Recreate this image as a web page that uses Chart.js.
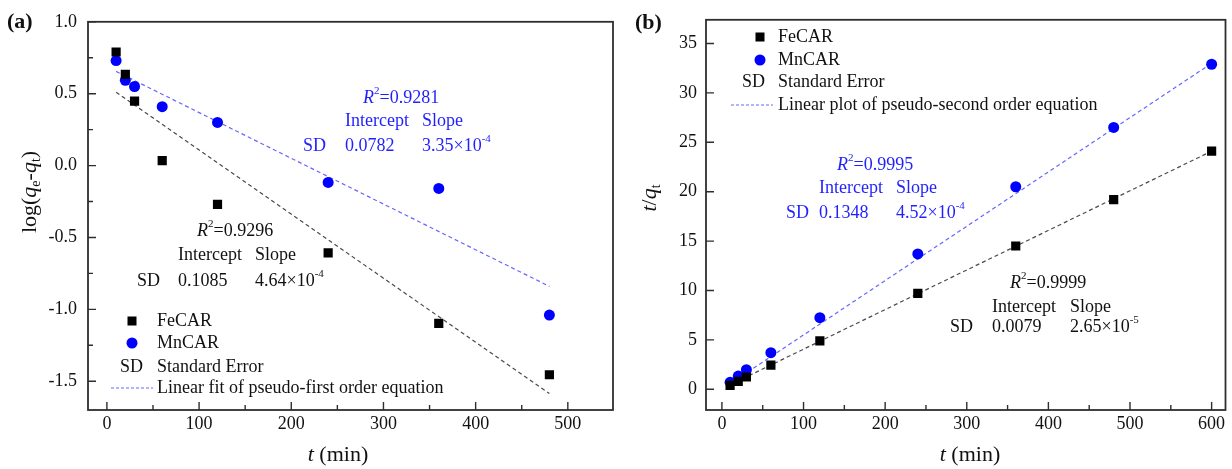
<!DOCTYPE html>
<html>
<head>
<meta charset="utf-8">
<script src="https://cdn.jsdelivr.net/npm/chart.js@4.4.0/dist/chart.umd.min.js"></script>
<style>
  body { margin: 0; background: #fff; }
  #wrap { position: relative; width: 1232px; height: 469px; }
  #wrap canvas { position: absolute; top: 0; }
  #chartA { left: 0; }
  #chartB { left: 620px; }
</style>
</head>
<body>
<div id="wrap">
  <canvas id="chartA" width="620" height="469"></canvas>
  <canvas id="chartB" width="612" height="469"></canvas>
</div>
<script>
// sampling times (min)
const timesA = [10, 20, 30, 60, 120, 240, 360, 480];
const timesB = [10, 20, 30, 60, 120, 240, 360, 480, 600];

// pseudo-first order, log(qe - qt)
const feLogA = [0.79, 0.634, 0.448, 0.034, -0.27, -0.607, -1.097, -1.455];
const mnLogA = [0.73, 0.593, 0.55, 0.41, 0.30, -0.117, -0.159, -1.04];
const fitTimesA = [10, 480];
const feFitA = [0.51, -1.586];
const mnFitA = [0.655, -0.84];

// pseudo-second order, t/qt
const feRatioB = [0.4, 0.8, 1.24, 2.45, 4.9, 9.7, 14.5, 19.2, 24.1];
const mnRatioB = [0.7, 1.34, 1.98, 3.7, 7.25, 13.7, 20.5, 26.5, 32.9];
const fitTimesB = [10, 600];
const feFitB = [0.45, 24.1];
const mnFitB = [0.55, 33.0];

// tick labels
const xTicksA = [0, 100, 200, 300, 400, 500];
const yTicksA = [-1.5, -1.0, -0.5, 0.0, 0.5, 1.0];
const xTicksB = [0, 100, 200, 300, 400, 500, 600];
const yTicksB = [0, 5, 10, 15, 20, 25, 30, 35];

const SERIF = '"Liberation Serif", "Times New Roman", serif';
const BLUE = '#0000ff';
const NOTE_BLUE = '#1f1fff';
const FIT_BLUE = '#6666ff';
const FIT_GREY = '#4a4a4a';

function pts(xs, ys) {
  return xs.map((x, i) => ({ x: x, y: ys[i] }));
}

// text runs: [text, kind] where kind is '', 'i', 'sub', 'sup' or 'b'
function runFont(kind, size) {
  const small = kind === 'sub' || kind === 'sup';
  const s = small ? Math.round(size * 0.62) : size;
  let style = '';
  if (kind === 'i') style = 'italic ';
  if (kind === 'b') style = 'bold ';
  return style + s + 'px ' + SERIF;
}

function richWidth(ctx, runs, size) {
  let w = 0;
  runs.forEach(r => {
    ctx.font = runFont(r[1], size);
    w += ctx.measureText(r[0]).width;
  });
  return w;
}

function drawRich(ctx, runs, x, y, size, color, align) {
  let cx = x;
  if (align === 'center') cx = x - richWidth(ctx, runs, size) / 2;
  ctx.fillStyle = color;
  ctx.textBaseline = 'middle';
  ctx.textAlign = 'left';
  runs.forEach(r => {
    ctx.font = runFont(r[1], size);
    let dy = 0;
    if (r[1] === 'sub') dy = size * 0.3;
    if (r[1] === 'sup') dy = -size * 0.38;
    ctx.fillText(r[0], cx, y + dy);
    cx += ctx.measureText(r[0]).width;
  });
}

// frame, inward ticks, titles, notes and legend
function makeDecor(cfg) {
  return {
    id: 'decor',
    afterDatasetsDraw(chart) {
      const ctx = chart.ctx;
      const a = chart.chartArea;
      const xs = chart.scales.x, ys = chart.scales.y;
      ctx.save();

      ctx.strokeStyle = '#2e2e2e';
      ctx.lineWidth = 1.8;
      ctx.strokeRect(a.left, a.top, a.right - a.left, a.bottom - a.top);

      ctx.lineWidth = 1.4;
      ctx.beginPath();
      cfg.xTicks.forEach((v, i) => {
        const px = xs.getPixelForValue(v);
        ctx.moveTo(px, a.bottom);
        ctx.lineTo(px, a.bottom - 8);
        if (cfg.xMinor && i < cfg.xTicks.length - 1) {
          const mx = xs.getPixelForValue((v + cfg.xTicks[i + 1]) / 2);
          ctx.moveTo(mx, a.bottom);
          ctx.lineTo(mx, a.bottom - 5);
        }
      });
      cfg.yTicks.forEach((v, i) => {
        const py = ys.getPixelForValue(v);
        ctx.moveTo(a.left, py);
        ctx.lineTo(a.left + 8, py);
        if (cfg.yMinor && i < cfg.yTicks.length - 1) {
          const my = ys.getPixelForValue((v + cfg.yTicks[i + 1]) / 2);
          ctx.moveTo(a.left, my);
          ctx.lineTo(a.left + 5, my);
        }
      });
      ctx.stroke();

      // panel tag
      drawRich(ctx, [[cfg.tag, 'b']], cfg.tagPos[0], cfg.tagPos[1], 22, '#111', 'left');

      // axis titles
      drawRich(ctx, cfg.xTitle, cfg.xTitlePos[0], cfg.xTitlePos[1], 22, '#111', 'center');
      ctx.save();
      ctx.translate(cfg.yTitlePos[0], cfg.yTitlePos[1]);
      ctx.rotate(-Math.PI / 2);
      drawRich(ctx, cfg.yTitle, 0, 0, 22, '#111', 'center');
      ctx.restore();

      // fit statistics
      cfg.notes.forEach(n => drawRich(ctx, n.runs, n.x, n.y, 18, n.color, 'left'));

      // legend
      const L = cfg.legend;
      ctx.fillStyle = '#000';
      ctx.fillRect(L.markX - 4.5, L.rows[0] - 4.5, 9, 9);
      ctx.fillStyle = BLUE;
      ctx.beginPath();
      ctx.arc(L.markX, L.rows[1], 5.5, 0, Math.PI * 2);
      ctx.fill();
      drawRich(ctx, [['SD', '']], L.sdX, L.rows[2], 18, '#111', 'left');
      ctx.strokeStyle = FIT_BLUE;
      ctx.lineWidth = 1.2;
      ctx.setLineDash([3, 2]);
      ctx.beginPath();
      ctx.moveTo(L.dash[0], L.rows[3]);
      ctx.lineTo(L.dash[1], L.rows[3]);
      ctx.stroke();
      ctx.setLineDash([]);
      L.labels.forEach((t, i) => drawRich(ctx, [[t, '']], L.textX, L.rows[i], 18, '#111', 'left'));

      ctx.restore();
    }
  };
}

function buildChart(id, sets, ax, decor) {
  const tickFont = { family: SERIF, size: 18 };
  return new Chart(document.getElementById(id), {
    type: 'scatter',
    data: { datasets: sets },
    options: {
      responsive: false,
      animation: false,
      devicePixelRatio: 1,
      layout: { padding: { top: 18, right: ax.padRight, left: 0, bottom: 0 } },
      plugins: { legend: { display: false }, tooltip: { enabled: false } },
      scales: {
        x: {
          type: 'linear',
          min: ax.xMin,
          max: ax.xMax,
          grid: { display: false, drawTicks: false },
          border: { display: false },
          afterBuildTicks: s => { s.ticks = ax.xTicks.map(v => ({ value: v })); },
          afterFit: s => { s.height = 59; },
          ticks: { padding: 3, color: '#111', font: tickFont, maxRotation: 0, autoSkip: false,
                   callback: v => String(v) }
        },
        y: {
          type: 'linear',
          min: ax.yMin,
          max: ax.yMax,
          grid: { display: false, drawTicks: false },
          border: { display: false },
          afterBuildTicks: s => { s.ticks = ax.yTicks.map(v => ({ value: v })); },
          afterFit: s => { s.width = ax.yWidth; },
          ticks: { padding: ax.yPad, color: '#111', font: tickFont, autoSkip: false,
                   callback: ax.yFmt }
        }
      }
    },
    plugins: [decor]
  });
}

function markerSets(times, fe, mn) {
  return [
    { label: 'FeCAR', data: pts(times, fe), pointStyle: 'rect', pointRadius: 6.5,
      backgroundColor: '#000', borderColor: '#000', borderWidth: 0 },
    { label: 'MnCAR', data: pts(times, mn), pointStyle: 'circle', pointRadius: 5.5,
      backgroundColor: BLUE, borderColor: BLUE, borderWidth: 0 }
  ];
}

function fitSets(times, fe, mn) {
  return [
    { label: 'FeCAR fit', data: pts(times, fe), showLine: true, pointRadius: 0,
      borderColor: FIT_GREY, borderWidth: 1.2, borderDash: [4, 3] },
    { label: 'MnCAR fit', data: pts(times, mn), showLine: true, pointRadius: 0,
      borderColor: FIT_BLUE, borderWidth: 1.2, borderDash: [4, 3] }
  ];
}

// (a) pseudo-first order
buildChart('chartA',
  markerSets(timesA, feLogA, mnLogA).concat(fitSets(fitTimesA, feFitA, mnFitA)),
  { xMin: -20.5, xMax: 549, yMin: -1.7, yMax: 1.0, xTicks: xTicksA, yTicks: yTicksA,
    yWidth: 88, yPad: 11, padRight: 7, yFmt: v => v.toFixed(1) },
  makeDecor({
    xTicks: xTicksA, yTicks: yTicksA, xMinor: true, yMinor: true,
    tag: '(a)', tagPos: [7, 22],
    xTitle: [['t', 'i'], [' (min)', '']], xTitlePos: [338, 455],
    yTitle: [['log(', ''], ['q', 'i'], ['e', 'sub'], ['-', ''], ['q', 'i'], ['t', 'sub'], [')', '']],
    yTitlePos: [30, 192],
    notes: [
      { x: 197, y: 231, color: '#111', runs: [['R', 'i'], ['2', 'sup'], ['=0.9296', '']] },
      { x: 178, y: 255, color: '#111', runs: [['Intercept', '']] },
      { x: 255, y: 255, color: '#111', runs: [['Slope', '']] },
      { x: 137, y: 281, color: '#111', runs: [['SD', '']] },
      { x: 178, y: 281, color: '#111', runs: [['0.1085', '']] },
      { x: 255, y: 281, color: '#111', runs: [['4.64×10', ''], ['-4', 'sup']] },
      { x: 363, y: 98, color: NOTE_BLUE, runs: [['R', 'i'], ['2', 'sup'], ['=0.9281', '']] },
      { x: 345, y: 121, color: NOTE_BLUE, runs: [['Intercept', '']] },
      { x: 422, y: 121, color: NOTE_BLUE, runs: [['Slope', '']] },
      { x: 303, y: 146, color: NOTE_BLUE, runs: [['SD', '']] },
      { x: 345, y: 146, color: NOTE_BLUE, runs: [['0.0782', '']] },
      { x: 422, y: 146, color: NOTE_BLUE, runs: [['3.35×10', ''], ['-4', 'sup']] }
    ],
    legend: { markX: 132, sdX: 120, textX: 157, dash: [111, 153], rows: [321, 343, 367, 388],
              labels: ['FeCAR', 'MnCAR', 'Standard Error', 'Linear fit of pseudo-first order equation'] }
  })
);

// (b) pseudo-second order
buildChart('chartB',
  markerSets(timesB, feRatioB, mnRatioB).concat(fitSets(fitTimesB, feFitB, mnFitB)),
  { xMin: -19.5, xMax: 617, yMin: -2.1, yMax: 37.4, xTicks: xTicksB, yTicks: yTicksB,
    yWidth: 86, yPad: 9, padRight: 1, yFmt: v => String(v) },
  makeDecor({
    xTicks: xTicksB, yTicks: yTicksB, xMinor: true, yMinor: false,
    tag: '(b)', tagPos: [15, 23],
    xTitle: [['t', 'i'], [' (min)', '']], xTitlePos: [350, 455],
    yTitle: [['t', 'i'], ['/', ''], ['q', 'i'], ['t', 'sub']],
    yTitlePos: [30, 198],
    notes: [
      { x: 217, y: 165, color: NOTE_BLUE, runs: [['R', 'i'], ['2', 'sup'], ['=0.9995', '']] },
      { x: 199, y: 188, color: NOTE_BLUE, runs: [['Intercept', '']] },
      { x: 276, y: 188, color: NOTE_BLUE, runs: [['Slope', '']] },
      { x: 166, y: 213, color: NOTE_BLUE, runs: [['SD', '']] },
      { x: 199, y: 213, color: NOTE_BLUE, runs: [['0.1348', '']] },
      { x: 276, y: 213, color: NOTE_BLUE, runs: [['4.52×10', ''], ['-4', 'sup']] },
      { x: 390, y: 283, color: '#111', runs: [['R', 'i'], ['2', 'sup'], ['=0.9999', '']] },
      { x: 372, y: 307, color: '#111', runs: [['Intercept', '']] },
      { x: 450, y: 307, color: '#111', runs: [['Slope', '']] },
      { x: 330, y: 327, color: '#111', runs: [['SD', '']] },
      { x: 372, y: 327, color: '#111', runs: [['0.0079', '']] },
      { x: 450, y: 327, color: '#111', runs: [['2.65×10', ''], ['-5', 'sup']] }
    ],
    legend: { markX: 140, sdX: 122, textX: 158, dash: [111, 153], rows: [37, 60, 82, 105],
              labels: ['FeCAR', 'MnCAR', 'Standard Error', 'Linear plot of pseudo-second order equation'] }
  })
);
</script>
</body>
</html>
